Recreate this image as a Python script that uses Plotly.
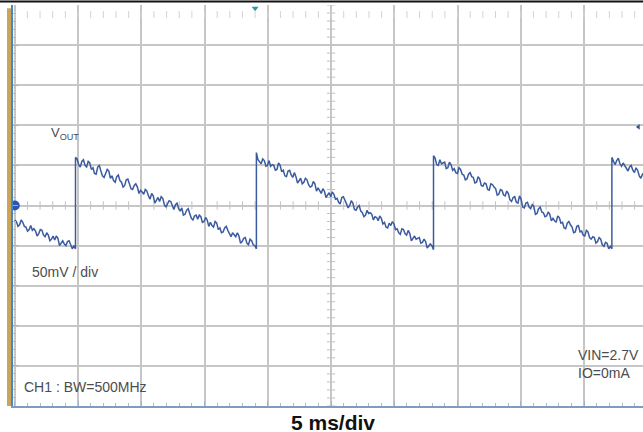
import numpy as np
import plotly.graph_objects as go

# ---------------- data ----------------
# time in ms (5 ms/div), voltage in mV (50 mV/div, AC coupled around 0)
EDGE_TIMES_MS = [0.0, 4.8, 19.1, 33.1, 47.2, 50.0]

SEG0_MV = [-18, -20, -26, -24, -18, -21, -26, -27, -32, -30, -25, -31, -29, -32,
           -38, -35, -30, -31, -37, -39, -34, -37, -44, -42, -38, -43, -38, -41,
           -50, -46, -44, -48, -50, -45, -44, -49, -54, -50, -54]
SEG1_MV = [60, 58, 51, 48, 55, 57, 50, 48, 55, 53,
           45, 47, 40, 39, 48, 50, 43, 37, 35, 41,
           45, 43, 34, 37, 31, 29, 36, 38, 31, 29,
           23, 25, 32, 33, 27, 21, 20, 25, 27, 23,
           15, 19, 17, 14, 20, 18, 12, 8, 15, 12,
           3, 7, 10, 5, 11, 9, 1, -2, 2, 6,
           5, -1, -5, 1, 3, -4, -7, -3, -12, -11,
           -6, -4, -10, -16, -18, -13, -12, -17, -12, -14,
           -21, -20, -15, -18, -26, -21, -25, -27, -20, -22,
           -30, -28, -34, -33, -28, -26, -31, -35, -39, -34,
           -36, -39, -34, -38, -47, -45, -41, -40, -47, -49,
           -42, -44, -49, -50, -54]
SEG2_MV = [66, 57, 55, 52, 58, 56, 49, 50, 56, 49,
           51, 50, 44, 45, 53, 50, 42, 44, 37, 36,
           43, 44, 38, 35, 41, 36, 28, 32, 34, 27,
           29, 34, 32, 26, 23, 24, 30, 27, 18, 22,
           19, 15, 21, 18, 10, 13, 16, 11, 17, 14,
           8, 9, 4, 2, 10, 11, 5, 2, -3, 0,
           6, 3, -5, -6, -2, 0, -7, -9, -14, -12,
           -6, -10, -9, -11, -18, -14, -15, -19, -13, -16,
           -23, -21, -27, -28, -22, -25, -20, -23, -30, -29,
           -34, -36, -29, -30, -35, -37, -31, -35, -44, -40,
           -38, -42, -41, -40, -47, -46, -42, -45, -53, -51,
           -48, -50, -55]
SEG3_MV = [62, 59, 51, 50, 57, 52, 53, 54, 46, 47,
           54, 51, 44, 46, 41, 40, 47, 45, 39, 38,
           32, 33, 39, 41, 36, 35, 28, 29, 36, 33,
           25, 24, 28, 27, 20, 19, 27, 26, 23, 21,
           13, 14, 20, 19, 13, 12, 18, 15, 7, 5,
           10, 11, 4, 3, 12, 8, -2, -3, 3, 4,
           -2, -4, 1, -1, -11, -10, -4, -2, -8, -9,
           -14, -13, -8, -11, -19, -16, -19, -21, -13, -15,
           -22, -21, -28, -29, -22, -20, -24, -27, -34, -33,
           -26, -25, -33, -32, -37, -38, -31, -33, -40, -42,
           -39, -40, -47, -45, -40, -42, -49, -51, -46, -47,
           -54, -51, -54]
SEG4_MV = [60, 55, 51, 56, 59, 52, 49, 53, 50, 46, 43, 48, 50, 44, 41, 47,
           44, 37, 34, 39, 41, 36, 35]

SEGMENTS = [SEG0_MV, SEG1_MV, SEG2_MV, SEG3_MV, SEG4_MV]

X_RANGE_MS = [-0.14, 49.66]
Y_RANGE_MV = [-250, 250]
X_DIV_MS = 5
Y_DIV_MV = 50

# ---------------- build trace ----------------
t_all, v_all = [], []
for k, seg in enumerate(SEGMENTS):
    ts = np.linspace(EDGE_TIMES_MS[k], EDGE_TIMES_MS[k + 1], len(seg))
    t_all.extend(ts.tolist())
    v_all.extend(seg)

TRACE_COLOR = "#3b5b9f"
GRID_COLOR = "#c6c6c6"
TEXT_COLOR = "#4d4d4d"
FONT = "Liberation Sans, Arial, sans-serif"

fig = go.Figure()

# small graticule ticks on the centre lines and top edge
xt = np.arange(0, 50, 1.0)
yt = np.arange(-250, 251, 10)
fig.add_trace(go.Scatter(x=xt, y=np.zeros_like(xt), mode="markers",
                         marker=dict(symbol="line-ns", size=6,
                                     line=dict(color="#c2c2c2", width=1)),
                         hoverinfo="skip", showlegend=False))
fig.add_trace(go.Scatter(x=np.full_like(yt, 25.0, dtype=float), y=yt, mode="markers",
                         marker=dict(symbol="line-ew", size=6,
                                     line=dict(color="#c2c2c2", width=1)),
                         hoverinfo="skip", showlegend=False))
fig.add_trace(go.Scatter(x=xt, y=np.full_like(xt, 238.0), mode="markers",
                         marker=dict(symbol="line-ns", size=5,
                                     line=dict(color="#d4d4d4", width=1)),
                         hoverinfo="skip", showlegend=False))

# waveform
fig.add_trace(go.Scatter(x=t_all, y=v_all, mode="lines",
                         line=dict(color=TRACE_COLOR, width=1.5),
                         hoverinfo="skip", showlegend=False))

# channel / trigger markers
fig.add_trace(go.Scatter(x=[0.0], y=[0.0], mode="markers",
                         marker=dict(symbol="circle", size=10, color="#2c56b5"),
                         cliponaxis=False, hoverinfo="skip", showlegend=False))
fig.add_trace(go.Scatter(x=[19.0], y=[246], mode="markers",
                         marker=dict(symbol="triangle-down", size=6, color="#2a9a9a"),
                         cliponaxis=False, hoverinfo="skip", showlegend=False))
fig.add_trace(go.Scatter(x=[49.3], y=[98], mode="markers",
                         marker=dict(symbol="triangle-left", size=5, color="#35508f"),
                         cliponaxis=False, hoverinfo="skip", showlegend=False))

fig.update_xaxes(range=X_RANGE_MS, tick0=0, dtick=X_DIV_MS, showgrid=True,
                 gridcolor=GRID_COLOR, gridwidth=1.5, zeroline=False,
                 showticklabels=False, showline=True, linecolor="#7f9cc0",
                 linewidth=1.5, ticks="inside", ticklen=5, tickcolor="#9fb3cc",
                 minor=dict(ticks="inside", dtick=1, tick0=0, ticklen=3,
                            tickcolor="#a9bcd2", showgrid=False))
fig.update_yaxes(range=Y_RANGE_MV, tick0=0, dtick=Y_DIV_MV, showgrid=True,
                 gridcolor=GRID_COLOR, gridwidth=1.5, zeroline=False,
                 showticklabels=False, showline=True, linecolor="#4a86c0",
                 linewidth=2, ticks="inside", ticklen=5, tickcolor="#8fb4d8",
                 minor=dict(ticks="inside", dtick=10, tick0=0, ticklen=3,
                            tickcolor="#9fc0e0", showgrid=False))

# frame decorations: orange bar on the left, black line at top
fig.add_shape(type="rect", xref="paper", yref="paper",
              x0=-6 / 630, x1=-2 / 630, y0=0, y1=0.992,
              fillcolor="#c9a55a", line=dict(width=0), layer="above")
fig.add_shape(type="line", xref="paper", yref="paper",
              x0=-13 / 630, x1=1, y0=1.0087, y1=1.0087,
              line=dict(color="#111111", width=2))

ann_font = dict(family=FONT, size=14, color=TEXT_COLOR)
fig.add_annotation(x=2.7, y=90, text="V<sub>OUT</sub>", showarrow=False,
                   xanchor="left", yanchor="middle",
                   font=dict(family=FONT, size=13, color=TEXT_COLOR))
fig.add_annotation(x=1.2, y=-83, text="50mV / div", showarrow=False,
                   xanchor="left", yanchor="middle", font=ann_font)
fig.add_annotation(x=0.6, y=-226, text="CH1 : BW=500MHz", showarrow=False,
                   xanchor="left", yanchor="middle", font=ann_font)
fig.add_annotation(x=44.4, y=-198, text="VIN=2.7V<br>IO=0mA", showarrow=False,
                   xanchor="left", yanchor="middle", align="left", font=ann_font)
fig.add_annotation(xref="paper", yref="paper", x=(333 - 13) / 630, y=-0.041,
                   text="<b>5 ms/div</b>", showarrow=False,
                   xanchor="center", yanchor="middle",
                   font=dict(family=FONT, size=21, color="#111111"))

fig.update_layout(width=643, height=432,
                  margin=dict(l=13, r=0, t=5, b=26),
                  paper_bgcolor="white", plot_bgcolor="white",
                  showlegend=False)

fig.write_html("out.html")
